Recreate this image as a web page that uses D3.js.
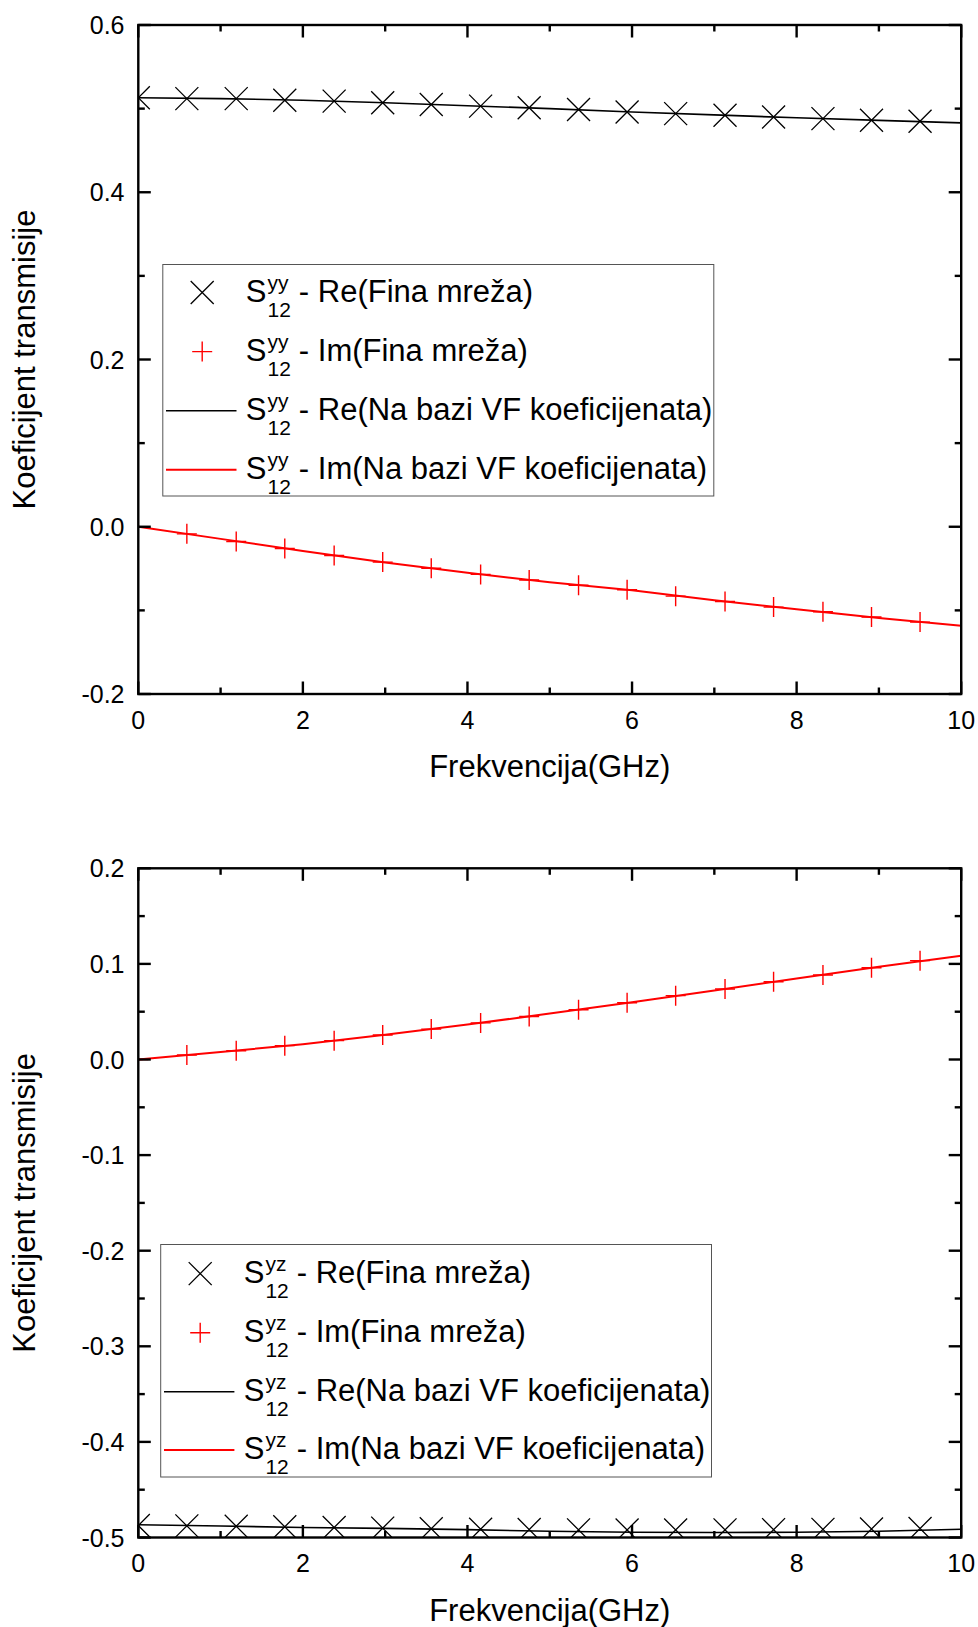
<!DOCTYPE html>
<html>
<head>
<meta charset="utf-8">
<script src="https://cdn.jsdelivr.net/npm/d3@7"></script>
<style>
  html, body { margin: 0; padding: 0; background: #fff; }
  svg { display: block; font-family: "Liberation Sans", Arial, sans-serif; }
</style>
</head>
<body>
<svg id="chart" width="978" height="1627"></svg>
<script>
// ---------------- DATA ----------------
const freqMarkers = [0, 0.59, 1.19, 1.78, 2.38, 2.97, 3.56, 4.16, 4.75, 5.35, 5.94, 6.53, 7.13, 7.72, 8.32, 8.91, 9.50];
const freqLine = [0, 1, 2, 3, 4, 5, 6, 7, 8, 9, 10];

// Plot 1: S12 yy
const yyReMarkers = [0.513, 0.512, 0.512, 0.510, 0.509, 0.507, 0.505, 0.503, 0.501, 0.499, 0.496, 0.494, 0.492, 0.490, 0.488, 0.486, 0.485];
const yyImMarkers = [0.000, -0.0085, -0.0177, -0.026, -0.0344, -0.0423, -0.0497, -0.057, -0.0637, -0.0700, -0.0754, -0.083, -0.0894, -0.0961, -0.1017, -0.108, -0.114];
const yyReLine = [0.513, 0.512, 0.510, 0.507, 0.5035, 0.500, 0.496, 0.4925, 0.489, 0.486, 0.483];
const yyImLine = [0, -0.0145, -0.029, -0.0427, -0.055, -0.0664, -0.076, -0.088, -0.0987, -0.109, -0.1185];

// Plot 2: S12 yz
const yzReMarkers = [-0.4875, -0.4878, -0.4882, -0.4888, -0.4895, -0.4902, -0.4908, -0.4913, -0.4917, -0.4920, -0.4921, -0.4921, -0.4920, -0.4918, -0.4915, -0.4911, -0.4906];
const yzImMarkers = [0, 0.0047, 0.0092, 0.0145, 0.0197, 0.0256, 0.0318, 0.0383, 0.045, 0.052, 0.0594, 0.0668, 0.0737, 0.0814, 0.0884, 0.096, 0.1034];
const yzReLine = [-0.4866, -0.488, -0.4895, -0.4905, -0.4918, -0.4935, -0.4945, -0.4948, -0.4945, -0.4935, -0.4914];
const yzImLine = [0, 0.0078, 0.016, 0.026, 0.0366, 0.048, 0.060, 0.0722, 0.0848, 0.097, 0.1086];

const xTickLabels = ["0", "2", "4", "6", "8", "10"];
const xTickValues = [0, 2, 4, 6, 8, 10];
const yyTickValues = [-0.2, 0.0, 0.2, 0.4, 0.6];
const yyTickLabels = ["-0.2", "0.0", "0.2", "0.4", "0.6"];
const yzTickValues = [-0.5, -0.4, -0.3, -0.2, -0.1, 0.0, 0.1, 0.2];
const yzTickLabels = ["-0.5", "-0.4", "-0.3", "-0.2", "-0.1", "0.0", "0.1", "0.2"];

const xTitle = "Frekvencija(GHz)";
const yTitle = "Koeficijent transmisije";
const legendRest = ["- Re(Fina mreža)", "- Im(Fina mreža)", "- Re(Na bazi VF koeficijenata)", "- Im(Na bazi VF koeficijenata)"];

// ---------------- DRAW ----------------
const svg = d3.select("#chart");
const RED = "#ff0000";

function drawPlot(cfg, idx) {
  const { top, bottom, yDomain, yMajor, yMinor, yTickV, yTickL, reM, imM, reL, imL, sup, legend } = cfg;
  const left = 138.3, right = 961.2;
  const x = d3.scaleLinear().domain([0, 10]).range([left, right]);
  const y = d3.scaleLinear().domain(yDomain).range([bottom, top]);
  const g = svg.append("g");

  const clipId = "clip" + idx;
  svg.append("clipPath").attr("id", clipId)
    .append("rect").attr("x", left).attr("y", top).attr("width", right - left).attr("height", bottom - top);

  const data = g.append("g").attr("clip-path", `url(#${clipId})`);
  const line = d3.line().x(d => x(d[0])).y(d => y(d[1]));

  data.append("path").datum(freqLine.map((f, i) => [f, reL[i]]))
    .attr("d", line).attr("fill", "none").attr("stroke", "#000").attr("stroke-width", 1.6);
  data.append("path").datum(freqLine.map((f, i) => [f, imL[i]]))
    .attr("d", line).attr("fill", "none").attr("stroke", RED).attr("stroke-width", 2);

  const xs = 11.5;
  data.selectAll(".xm").data(freqMarkers.map((f, i) => [f, reM[i]])).enter()
    .append("path").attr("class", "xm")
    .attr("d", d => { const cx = x(d[0]), cy = y(d[1]);
      return `M${cx - xs},${cy - xs}L${cx + xs},${cy + xs}M${cx - xs},${cy + xs}L${cx + xs},${cy - xs}`; })
    .attr("stroke", "#000").attr("stroke-width", 1.3).attr("fill", "none");
  const ps = 10;
  data.selectAll(".pm").data(freqMarkers.map((f, i) => [f, imM[i]])).enter()
    .append("path").attr("class", "pm")
    .attr("d", d => { const cx = x(d[0]), cy = y(d[1]);
      return `M${cx - ps},${cy}L${cx + ps},${cy}M${cx},${cy - ps}L${cx},${cy + ps}`; })
    .attr("stroke", RED).attr("stroke-width", 1.4).attr("fill", "none");

  const majL = 12.5, minL = 6.5, aw = 2.4;
  const ax = g.append("g");
  const xMajor = d3.range(0, 10.001, 2), xMinor = d3.range(1, 10, 2);
  const yMaj = d3.range(Math.round((yDomain[1] - yDomain[0]) / yMajor) + 1).map(i => yDomain[0] + i * yMajor);
  const yMin = d3.range(Math.round((yDomain[1] - yDomain[0]) / yMinor) + 1).map(i => yDomain[0] + i * yMinor)
    .filter(v => !yMaj.some(m => Math.abs(m - v) < 1e-9));
  const tick = (x1, y1, x2, y2) => ax.append("line").attr("x1", x1).attr("y1", y1).attr("x2", x2).attr("y2", y2)
    .attr("stroke", "#000").attr("stroke-width", aw);
  xMajor.forEach(v => { tick(x(v), bottom, x(v), bottom - majL); tick(x(v), top, x(v), top + majL); });
  xMinor.forEach(v => { tick(x(v), bottom, x(v), bottom - minL); tick(x(v), top, x(v), top + minL); });
  yMaj.forEach(v => { tick(left, y(v), left + majL, y(v)); tick(right, y(v), right - majL, y(v)); });
  yMin.forEach(v => { tick(left, y(v), left + minL, y(v)); tick(right, y(v), right - minL, y(v)); });
  ax.append("rect").attr("x", left).attr("y", top).attr("width", right - left).attr("height", bottom - top)
    .attr("fill", "none").attr("stroke", "#000").attr("stroke-width", aw);

  g.selectAll(".xl").data(xTickValues).enter().append("text")
    .attr("x", d => x(d)).attr("y", bottom + 34.5).attr("text-anchor", "middle")
    .attr("font-size", 25).text((d, i) => xTickLabels[i]);
  g.selectAll(".yl").data(yTickV).enter().append("text")
    .attr("x", 124.5).attr("y", d => y(d) + 9).attr("text-anchor", "end")
    .attr("font-size", 25).text((d, i) => yTickL[i]);

  g.append("text").attr("x", (left + right) / 2).attr("y", bottom + 83).attr("text-anchor", "middle")
    .attr("font-size", 31).text(xTitle);
  g.append("text").attr("transform", `translate(35,${(top + bottom) / 2}) rotate(-90)`)
    .attr("text-anchor", "middle").attr("font-size", 31).text(yTitle);

  const L = legend;
  g.append("rect").attr("x", L.x0).attr("y", L.y0).attr("width", L.x1 - L.x0).attr("height", L.y1 - L.y0)
    .attr("fill", "#fff").attr("stroke", "#555").attr("stroke-width", 1);
  L.rows.forEach((cy, i) => {
    const sx = L.symX;
    if (i === 0) {
      g.append("path").attr("d", `M${sx - xs},${cy - xs}L${sx + xs},${cy + xs}M${sx - xs},${cy + xs}L${sx + xs},${cy - xs}`)
        .attr("stroke", "#000").attr("stroke-width", 1.3).attr("fill", "none");
    } else if (i === 1) {
      g.append("path").attr("d", `M${sx - ps},${cy}L${sx + ps},${cy}M${sx},${cy - ps}L${sx},${cy + ps}`)
        .attr("stroke", RED).attr("stroke-width", 1.4).attr("fill", "none");
    } else {
      g.append("line").attr("x1", L.lx0).attr("x2", L.lx1).attr("y1", cy).attr("y2", cy)
        .attr("stroke", i === 2 ? "#000" : RED).attr("stroke-width", i === 2 ? 1.6 : 2);
    }
    const base = cy + 9;
    const s = g.append("text").attr("x", L.tx).attr("y", base).attr("font-size", 31).text("S");
    const sw = s.node().getComputedTextLength();
    g.append("text").attr("x", L.tx + sw + 1).attr("y", base - 12).attr("font-size", 21).text(sup);
    const sub = g.append("text").attr("x", L.tx + sw + 1).attr("y", base + 15).attr("font-size", 21).text("12");
    const subw = sub.node().getComputedTextLength();
    g.append("text").attr("x", L.tx + sw + 1 + subw + 8).attr("y", base).attr("font-size", 31).text(legendRest[i]);
  });
}

drawPlot({
  top: 25, bottom: 694, yDomain: [-0.2, 0.6], yMajor: 0.2, yMinor: 0.1, yTickV: yyTickValues, yTickL: yyTickLabels,
  reM: yyReMarkers, imM: yyImMarkers, reL: yyReLine, imL: yyImLine, sup: "yy",
  legend: { x0: 162.8, y0: 264.5, x1: 713.8, y1: 496, symX: 202.2, lx0: 166, lx1: 236.5, tx: 245.8,
            rows: [292.5, 351.6, 410.7, 469.8] }
}, 0);

drawPlot({
  top: 868.3, bottom: 1537.5, yDomain: [-0.5, 0.2], yMajor: 0.1, yMinor: 0.05, yTickV: yzTickValues, yTickL: yzTickLabels,
  reM: yzReMarkers, imM: yzImMarkers, reL: yzReLine, imL: yzImLine, sup: "yz",
  legend: { x0: 160.7, y0: 1244.5, x1: 711.5, y1: 1477, symX: 200.2, lx0: 164, lx1: 234.4, tx: 243.7,
            rows: [1273.6, 1332.7, 1391.8, 1449.9] }
}, 1);
</script>
</body>
</html>
